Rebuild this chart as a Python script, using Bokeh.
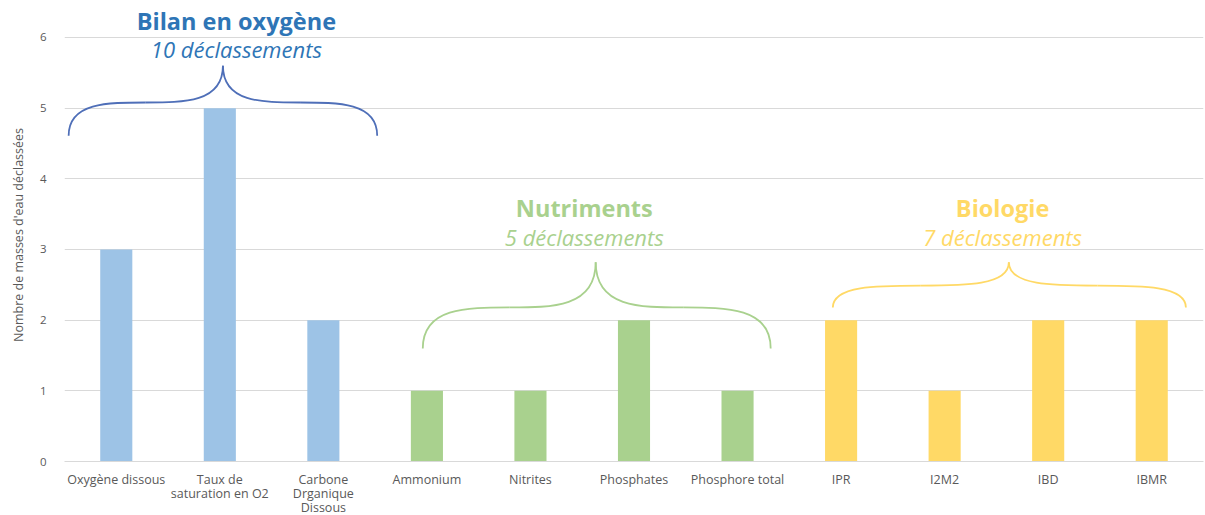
from bokeh.plotting import figure
from bokeh.models import Range1d, FixedTicker, Label
from bokeh.embed import file_html
from bokeh.resources import INLINE

# ---- data ----
categories = ["Oxygène dissous", "Taux de\nsaturation en O2", "Carbone\nDrganique\nDissous",
              "Ammonium", "Nitrites", "Phosphates", "Phosphore total",
              "IPR", "I2M2", "IBD", "IBMR"]
values = [3, 5, 2, 1, 1, 2, 1, 2, 1, 2, 2]
groups = ["oxy", "oxy", "oxy", "nut", "nut", "nut", "nut", "bio", "bio", "bio", "bio"]
y_ticks = [0, 1, 2, 3, 4, 5, 6]

group_titles = {"oxy": "Bilan en oxygène", "nut": "Nutriments", "bio": "Biologie"}
group_subtitles = {"oxy": "10 déclassements", "nut": "5 déclassements", "bio": "7 déclassements"}

# ---- styles ----
bar_colors = {"oxy": "#9DC3E6", "nut": "#A9D18E", "bio": "#FFD966"}
title_colors = {"oxy": "#2E75B6", "nut": "#A9D18E", "bio": "#FFD966"}
sub_colors = {"oxy": "#2E75B6", "nut": "#A9D18E", "bio": "#FFD966"}
brace_colors = {"oxy": "#4F6FB8", "nut": "#A9D18E", "bio": "#FFD966"}
FONT = "Open Sans"

# annotation placement (data units): brace ends, horizontal level, tip, text positions
brace_geom = {
    "oxy": dict(x0=0.04, x1=3.02, xt=1.53, ye=4.61, yh=5.08, yt=5.60, ytitle=6.24, ysub=5.84, xtext=1.66),
    "nut": dict(x0=3.46, x1=6.82, xt=5.13, ye=1.60, yh=2.18, yt=2.82, ytitle=3.58, ysub=3.17, xtext=5.02),
    "bio": dict(x0=7.42, x1=10.83, xt=9.12, ye=2.18, yh=2.49, yt=2.82, ytitle=3.58, ysub=3.17, xtext=9.06),
}

p = figure(frame_width=1139, frame_height=453, output_backend="svg", toolbar_location=None,
           x_range=Range1d(0, 11), y_range=Range1d(0, 6.41),
           min_border_left=64, min_border_right=2, min_border_top=8, min_border_bottom=0)
p.outline_line_color = None
p.background_fill_color = "white"

xs = [i + 0.5 for i in range(len(categories))]
colors = [bar_colors[g] for g in groups]
p.vbar(x=xs, top=values, width=0.31, color=colors, line_color=None)

# axes
p.xaxis.ticker = FixedTicker(ticks=xs)
p.xaxis.major_label_overrides = {x: c for x, c in zip(xs, categories)}
p.xaxis.axis_line_color = "#D9D9D9"
p.xaxis.major_tick_line_color = None
p.xaxis.minor_tick_line_color = None
p.xaxis.major_label_text_font = FONT
p.xaxis.major_label_text_font_size = "12.5px"
p.xaxis.major_label_text_color = "#595959"
p.xaxis.major_label_text_line_height = 0.85
p.xaxis.major_label_standoff = 3

p.yaxis.ticker = FixedTicker(ticks=y_ticks)
p.yaxis.axis_line_color = None
p.yaxis.major_tick_line_color = None
p.yaxis.minor_tick_line_color = None
p.yaxis.major_label_text_font = FONT
p.yaxis.major_label_text_font_size = "11.5px"
p.yaxis.major_label_text_color = "#595959"
p.yaxis.major_label_standoff = 12
p.yaxis.axis_label = "Nombre de masses d'eau déclassées"
p.yaxis.axis_label_text_font = FONT
p.yaxis.axis_label_text_font_size = "12.5px"
p.yaxis.axis_label_text_font_style = "normal"
p.yaxis.axis_label_text_color = "#595959"
p.yaxis.axis_label_standoff = 10

p.xgrid.grid_line_color = None
p.ygrid.grid_line_color = "#D9D9D9"
p.ygrid.grid_line_width = 1

# braces and group texts
for g, geo in brace_geom.items():
    x0, x1, xt = geo["x0"], geo["x1"], geo["xt"]
    ye, yh, yt = geo["ye"], geo["yh"], geo["yt"]
    ml = (x0 + xt) / 2
    mr = (x1 + xt) / 2
    p.bezier(x0=[x0, ml, x1, mr], y0=[ye, yh, ye, yh],
             x1=[ml, xt, mr, xt], y1=[yh, yt, yh, yt],
             cx0=[x0, xt - 0.5 * (xt - ml), x1, xt + 0.5 * (mr - xt)],
             cy0=[yh, yh, yh, yh],
             cx1=[x0 + 0.5 * (ml - x0), xt, x1 - 0.5 * (x1 - mr), xt],
             cy1=[yh, yh, yh, yh],
             line_color=brace_colors[g], line_width=1.8)
    p.add_layout(Label(x=geo["xtext"], y=geo["ytitle"], text=group_titles[g],
                       text_align="center", text_baseline="middle",
                       text_font=FONT, text_font_style="bold", text_font_size="23.5px",
                       text_color=title_colors[g]))
    p.add_layout(Label(x=geo["xtext"], y=geo["ysub"], text=group_subtitles[g],
                       text_align="center", text_baseline="middle",
                       text_font=FONT, text_font_style="italic", text_font_size="22px",
                       text_color=sub_colors[g]))

open("out.html", "w").write(file_html(p, INLINE))
